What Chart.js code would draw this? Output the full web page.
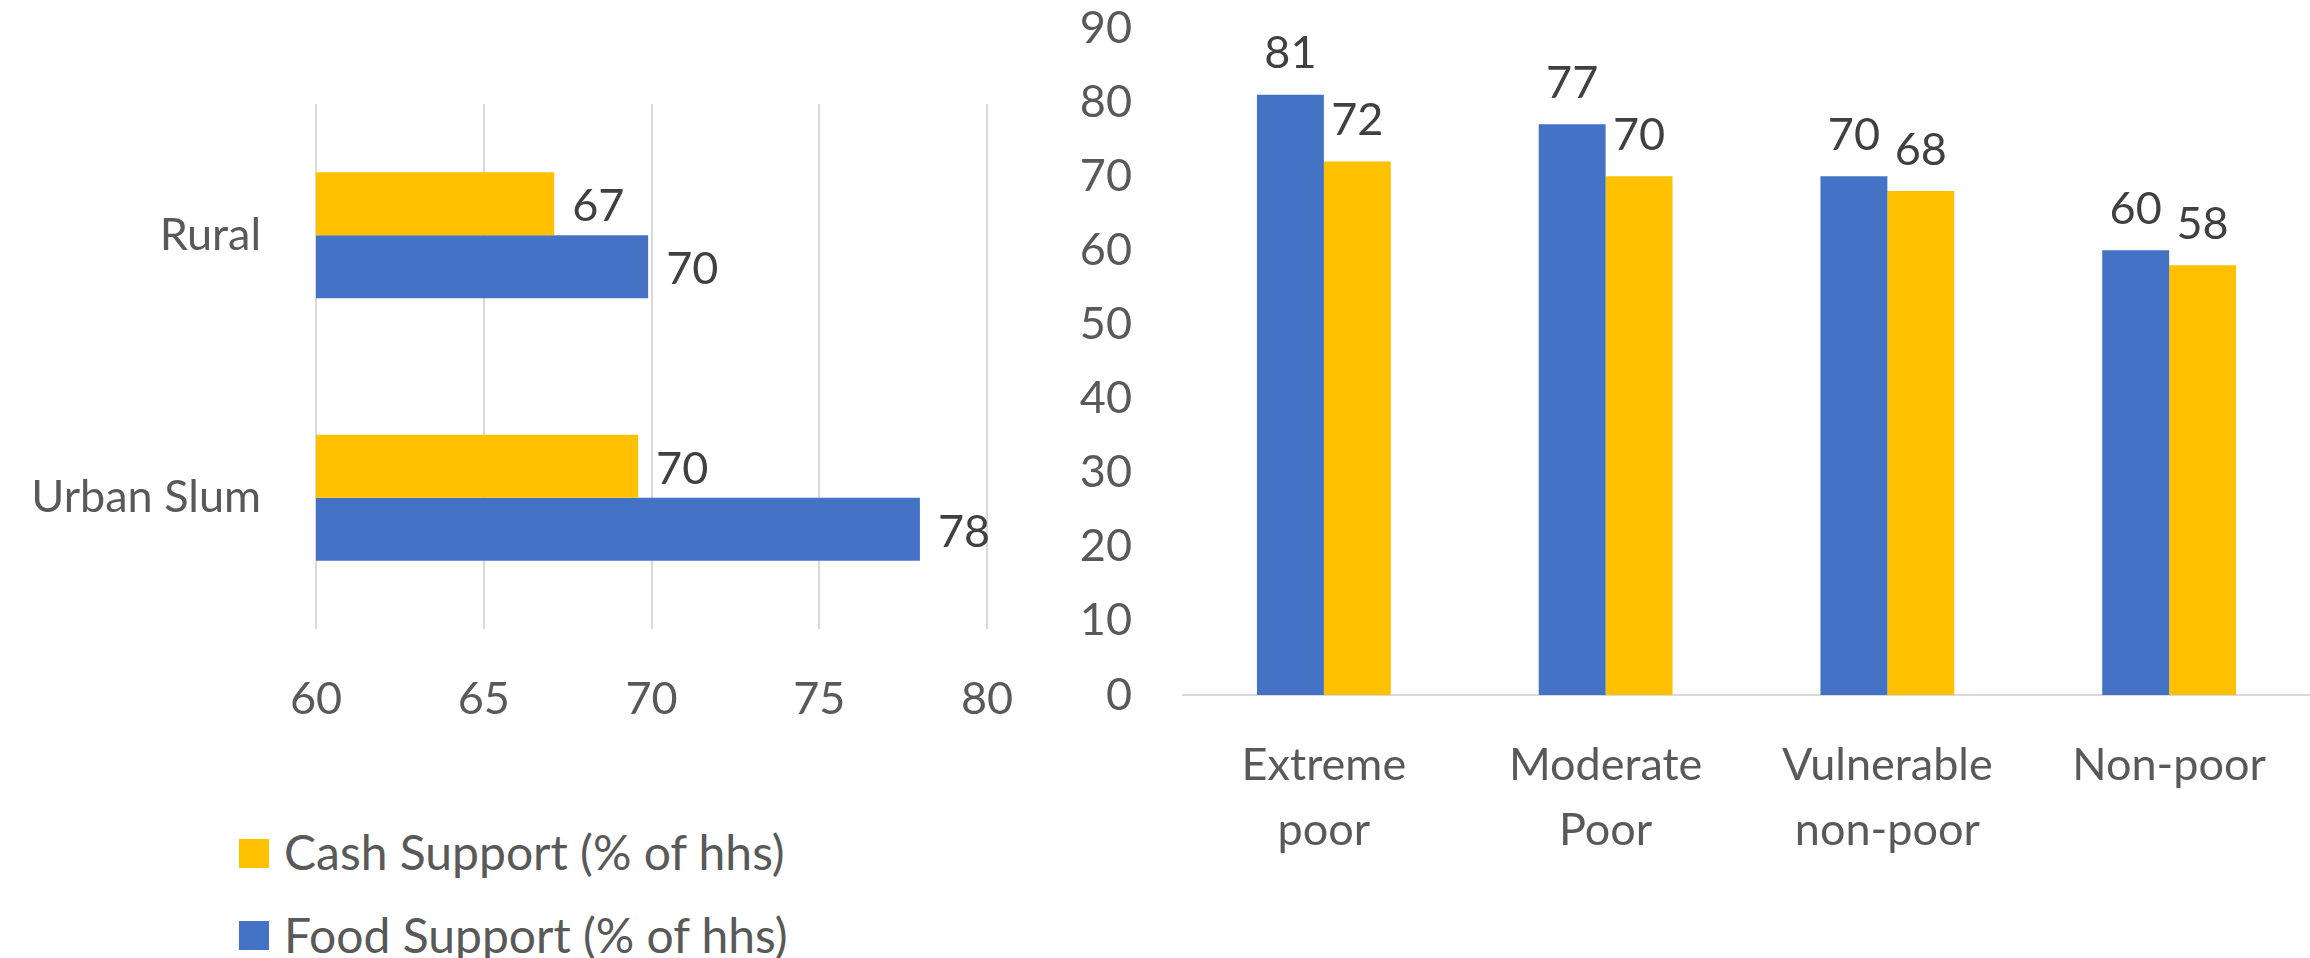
<!DOCTYPE html>
<html>
<head>
<meta charset="utf-8">
<script src="https://cdn.jsdelivr.net/npm/chart.js@4.4.1/dist/chart.umd.min.js"></script>
<style>
  html, body { margin: 0; padding: 0; background: #fff; }
  body { width: 2310px; height: 958px; position: relative; overflow: hidden; font-family: Lato, sans-serif; }
  #areaWrap { position: absolute; left: 0; top: 0; width: 1040px; height: 760px; }
  #povWrap { position: absolute; left: 1050px; top: 0; width: 1260px; height: 958px; }
  .legend { position: absolute; left: 239px; color: #595959; font-size: 48px; line-height: 1; }
  .legend span { position: absolute; left: 0; width: 30px; height: 29px; }
  .legend div { position: absolute; left: 45px; top: 0; white-space: nowrap; transform: translateY(-50%); }
</style>
</head>
<body>
<div id="areaWrap"><canvas id="areaChart"></canvas></div>
<div id="povWrap"><canvas id="povChart"></canvas></div>
<div class="legend" style="top:852px"><span style="background:#FFC000;top:-13px"></span><div>Cash Support (% of hhs)</div></div>
<div class="legend" style="top:935px"><span style="background:#4472C4;top:-14px"></span><div>Food Support (% of hhs)</div></div>
<script>
// left chart: by area
const areaLabels = ["Rural", "Urban Slum"];
const areaCash = [67.1, 69.6];
const areaFood = [69.9, 78];
const areaTicks = [60, 65, 70, 75, 80];

// right chart: by poverty status
const povLabels = [["Extreme", "poor"], ["Moderate", "Poor"], ["Vulnerable", "non-poor"], ["Non-poor"]];
const povFood = [81, 77, 70, 60];
const povCash = [72, 70, 68, 58];

const BLUE = "#4472C4";
const YELLOW = "#FFC000";
const TEXT = "#595959";
const FONT = "Lato";

Chart.defaults.font.family = FONT;
Chart.defaults.font.size = 45;
Chart.defaults.color = TEXT;

// value labels drawn next to / above each bar
const valueLabels = {
  id: "valueLabels",
  afterDatasetsDraw(chart, args, opts) {
    const ctx = chart.ctx;
    ctx.save();
    ctx.font = "45px " + FONT;
    ctx.fillStyle = "#404040";
    ctx.textBaseline = "middle";
    chart.data.datasets.forEach((ds, i) => {
      chart.getDatasetMeta(i).data.forEach((bar, j) => {
        const txt = String(Math.round(ds.data[j]));
        if (opts.horizontal) {
          ctx.textAlign = "left";
          ctx.fillText(txt, bar.x + 18, bar.y + 3);
        } else {
          ctx.textAlign = "center";
          ctx.fillText(txt, bar.x, bar.y - 41);
        }
      });
    });
    ctx.restore();
  }
};

// keep tick labels from pushing the plot area around
function noEdgePadding(scale) {
  scale.paddingLeft = 0;
  scale.paddingRight = 0;
  scale.paddingTop = 0;
  scale.paddingBottom = 0;
}

new Chart(document.getElementById("areaChart"), {
  type: "bar",
  data: {
    labels: areaLabels,
    datasets: [
      { label: "Cash Support (% of hhs)", data: areaCash, backgroundColor: YELLOW },
      { label: "Food Support (% of hhs)", data: areaFood, backgroundColor: BLUE }
    ]
  },
  options: {
    indexAxis: "y",
    responsive: true,
    maintainAspectRatio: false,
    animation: false,
    categoryPercentage: 0.48,
    barPercentage: 1,
    layout: { padding: { top: 104, right: 53, left: 0, bottom: 0 } },
    plugins: {
      legend: { display: false },
      tooltip: { enabled: false },
      valueLabels: { horizontal: true }
    },
    scales: {
      x: {
        min: 60,
        max: 80,
        afterBuildTicks: (scale) => { scale.ticks = areaTicks.map(v => ({ value: v })); },
        afterFit: (scale) => { scale.height = 131; noEdgePadding(scale); },
        grid: { color: "#D9D9D9", lineWidth: 2, drawTicks: false },
        border: { display: false },
        ticks: { padding: 43, color: TEXT }
      },
      y: {
        afterFit: (scale) => { scale.width = 316; noEdgePadding(scale); },
        grid: { display: false, drawTicks: false },
        border: { display: false },
        ticks: { padding: 55, color: TEXT }
      }
    }
  },
  plugins: [valueLabels]
});

new Chart(document.getElementById("povChart"), {
  type: "bar",
  data: {
    labels: povLabels,
    datasets: [
      { label: "Food Support (% of hhs)", data: povFood, backgroundColor: BLUE },
      { label: "Cash Support (% of hhs)", data: povCash, backgroundColor: YELLOW }
    ]
  },
  options: {
    responsive: true,
    maintainAspectRatio: false,
    animation: false,
    categoryPercentage: 0.475,
    barPercentage: 1,
    layout: { padding: { top: 28, right: 0, left: 0, bottom: 0 } },
    plugins: {
      legend: { display: false },
      tooltip: { enabled: false },
      valueLabels: { horizontal: false }
    },
    scales: {
      x: {
        afterFit: (scale) => { scale.height = 263; noEdgePadding(scale); },
        grid: { display: false, drawTicks: false },
        border: { display: true, color: "#D9D9D9", width: 2 },
        ticks: { padding: 38, color: TEXT, font: { size: 45, lineHeight: 1.45 }, maxRotation: 0, autoSkip: false }
      },
      y: {
        min: 0,
        max: 90,
        afterFit: (scale) => { scale.width = 133; noEdgePadding(scale); },
        grid: { display: false, drawTicks: false },
        border: { display: false },
        ticks: { stepSize: 10, padding: 51, color: TEXT }
      }
    }
  },
  plugins: [valueLabels]
});
</script>
</body>
</html>
